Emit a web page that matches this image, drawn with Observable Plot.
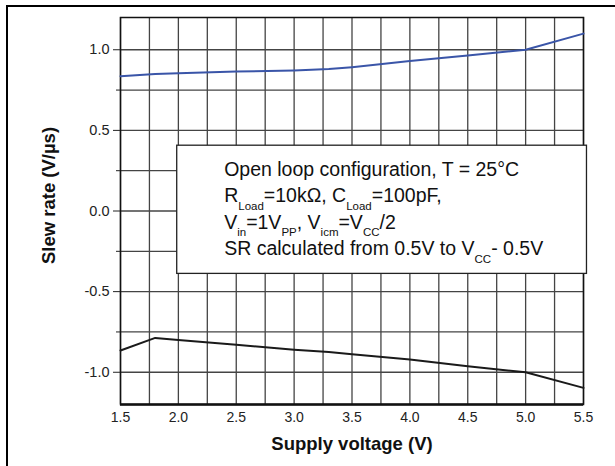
<!DOCTYPE html>
<html>
<head>
<meta charset="utf-8">
<script src="https://cdn.jsdelivr.net/npm/d3@7"></script>
<script src="https://cdn.jsdelivr.net/npm/@observablehq/plot@0.6"></script>
<style>
  html, body { margin: 0; padding: 0; background: #fff; }
  #wrap { position: relative; width: 615px; height: 466px; }
  #border { position: absolute; left: 6px; top: 5px; right: 0; bottom: -2px;
            border-left: 2px solid #000; border-top: 2px solid #000; pointer-events: none; }
  svg { font-family: "Liberation Sans", Arial, sans-serif; }
</style>
</head>
<body>
<div id="wrap"><div id="border"></div></div>
<script>
// Data
const voltage   = [1.5, 1.8, 2.0, 2.5, 3.0, 3.3, 3.5, 4.0, 4.5, 5.0, 5.5];
const srRising  = [0.836, 0.85, 0.855, 0.865, 0.872, 0.88, 0.892, 0.93, 0.965, 1.0, 1.1];
const srFalling = [-0.865, -0.787, -0.80, -0.83, -0.86, -0.875, -0.888, -0.921, -0.963, -1.0, -1.097];
const xTicks = [1.5, 2.0, 2.5, 3.0, 3.5, 4.0, 4.5, 5.0, 5.5];
const yTicks = [-1.0, -0.5, 0.0, 0.5, 1.0];
const xGrid = d3.range(1.5, 5.501, 0.25);
const yGrid = d3.range(-1.0, 1.001, 0.25);
const yMinor = [-0.75, -0.25, 0.25, 0.75];
const xLabel = "Supply voltage (V)";
const yLabel = "Slew rate (V/\u00b5s)";
const noteLines = [
  [["Open loop configuration, T = 25\u00b0C"]],
  [["R"], ["Load", "sub"], ["=10k\u03a9, C"], ["Load", "sub"], ["=100pF,"]],
  [["V"], ["in", "sub"], ["=1V"], ["PP", "sub"], [", V"], ["icm", "sub"], ["=V"], ["CC", "sub"], ["/2"]],
  [["SR calculated from 0.5V to V"], ["CC", "sub"], ["- 0.5V"]]
];

const rising = voltage.map((v, i) => ({v, sr: srRising[i]}));
const falling = voltage.map((v, i) => ({v, sr: srFalling[i]}));
const fmt = d => d.toFixed(1);

function noteText(index, scales, values, dimensions) {
  const g = d3.create("svg:g").attr("text-anchor", "start");
  const left = scales.x(2.4);
  const top = scales.y(0.405);
  noteLines.forEach((segs, li) => {
    const base = top + 31 + li * 26.3;
    const text = g.append("text")
      .attr("text-anchor", "start")
      .attr("font-family", "'Liberation Sans', Arial, sans-serif")
      .attr("font-size", 19.5)
      .attr("fill", "#111")
      .attr("x", left)
      .attr("y", base);
    let inSub = false;
    segs.forEach(([s, kind]) => {
      const t = text.append("tspan").text(s);
      if (kind === "sub") {
        t.attr("font-size", 11.5).attr("dy", inSub ? 0 : 7.5);
        inSub = true;
      } else {
        t.attr("dy", inSub ? -7.5 : 0);
        inSub = false;
      }
    });
  });
  return g.node();
}

const chart = Plot.plot({
  width: 615,
  height: 466,
  marginLeft: 120,
  marginRight: 32,
  marginTop: 17,
  marginBottom: 62,
  style: {fontFamily: "'Liberation Sans', Arial, sans-serif", background: "transparent", overflow: "visible"},
  x: {domain: [1.5, 5.5]},
  y: {domain: [-1.2, 1.2]},
  marks: [
    Plot.gridX(xGrid, {stroke: "#444", strokeOpacity: 1, strokeWidth: 1.3}),
    Plot.gridY(yGrid, {stroke: "#444", strokeOpacity: 1, strokeWidth: 1.3}),
    Plot.frame({stroke: "#111", strokeWidth: 1.5}),
    Plot.ruleY([-1.2], {stroke: "#111", strokeWidth: 2.5}),
    Plot.axisX({ticks: xTicks, tickSize: 0, tickPadding: 8, tickFormat: fmt, fontSize: 14, fill: "#222", label: null}),
    Plot.axisY({ticks: yTicks, tickSize: 7, tickPadding: 4, tickFormat: fmt, fontSize: 14.5, fill: "#222", stroke: "#222", label: null}),
    Plot.axisY({ticks: yMinor, tickSize: 4, tickFormat: () => "", stroke: "#222", label: null}),
    Plot.line(rising, {x: "v", y: "sr", stroke: "#3a55a8", strokeWidth: 2}),
    Plot.line(falling, {x: "v", y: "sr", stroke: "#1a1a1a", strokeWidth: 2}),
    Plot.rect([0], {x1: 1.99, x2: 5.53, y1: -0.39, y2: 0.405, fill: "white", stroke: "#222", strokeWidth: 1.3, clip: false}),
    noteText,
    Plot.text([xLabel], {frameAnchor: "bottom", dy: 45, fontSize: 18.5, fontWeight: "bold", fill: "#111"}),
    Plot.text([yLabel], {frameAnchor: "left", textAnchor: "middle", dx: -71, dy: -15.5, rotate: -90, fontSize: 18.5, fontWeight: "bold", fill: "#111"})
  ]
});
document.getElementById("wrap").prepend(chart);
</script>
</body>
</html>
